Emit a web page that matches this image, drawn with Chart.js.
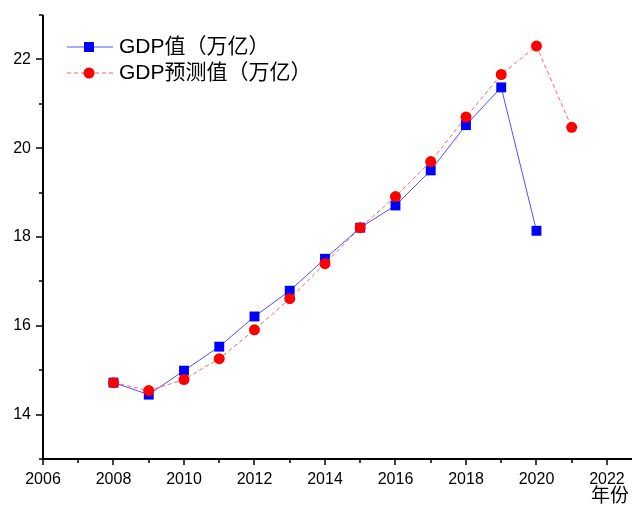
<!DOCTYPE html>
<html>
<head>
<meta charset="utf-8">
<script src="https://cdn.jsdelivr.net/npm/chart.js@4.4.0/dist/chart.umd.min.js"></script>
<style>
    body { margin: 0; background: #fff; }
    #wrap { width: 632px; height: 508px; }
</style>
</head>
<body>
<div id="wrap"><canvas id="chartGdp" width="632" height="508"></canvas></div>
<script>
// data
const years = [2008, 2009, 2010, 2011, 2012, 2013, 2014, 2015, 2016, 2017, 2018, 2019, 2020, 2021];
const gdpActual = [14.72, 14.45, 14.99, 15.53, 16.21, 16.79, 17.51, 18.21, 18.71, 19.50, 20.52, 21.37, 18.14, null];
const gdpForecast = [14.72, 14.54, 14.79, 15.26, 15.91, 16.61, 17.40, 18.21, 18.91, 19.70, 20.70, 21.66, 22.30, 20.47];
const seriesLabels = ['GDP值（万亿）', 'GDP预测值（万亿）'];
const xTitle = '年份';

const FONT = "'Liberation Sans', Arial, 'Noto Sans CJK SC', sans-serif";
const BLUE = '#0000ff';
const RED = '#ff0000';

const toPoints = vals => years.map((y, i) => ({ x: y, y: vals[i] }));

// no automatic label padding, the plot area is fixed
function fixScale(scale) {
    scale.paddingLeft = 0;
    scale.paddingRight = 0;
    scale.paddingTop = 0;
    scale.paddingBottom = 0;
}

// axis lines, major/minor ticks, legend and axis title
const decorPlugin = {
    id: 'decor',
    afterDraw(chart) {
        const ctx = chart.ctx;
        const area = chart.chartArea;
        const xs = chart.scales.x;
        const ys = chart.scales.y;
        ctx.save();
        ctx.strokeStyle = '#000';
        ctx.lineWidth = 2;
        ctx.beginPath();
        ctx.moveTo(area.left, area.top);
        ctx.lineTo(area.left, area.bottom);
        ctx.lineTo(area.right, area.bottom);
        ctx.stroke();

        ctx.lineWidth = 1.5;
        for (let v = 2006; v <= 2022; v++) {
            const px = Math.round(xs.getPixelForValue(v));
            const len = v % 2 === 0 ? 6 : 4;
            ctx.beginPath();
            ctx.moveTo(px, area.bottom);
            ctx.lineTo(px, area.bottom + len);
            ctx.stroke();
        }
        for (let v = 13; v <= 23; v++) {
            const py = Math.round(ys.getPixelForValue(v));
            const len = v % 2 === 0 ? 7 : 4;
            ctx.beginPath();
            ctx.moveTo(area.left, py);
            ctx.lineTo(area.left - len, py);
            ctx.stroke();
        }

        // legend
        const items = [
            { y: 47, ds: chart.data.datasets[0] },
            { y: 73, ds: chart.data.datasets[1] }
        ];
        items.forEach(it => {
            ctx.strokeStyle = it.ds.borderColor;
            ctx.lineWidth = 1;
            ctx.setLineDash(it.ds.borderDash || []);
            ctx.beginPath();
            ctx.moveTo(67, it.y);
            ctx.lineTo(113, it.y);
            ctx.stroke();
            ctx.setLineDash([]);
            ctx.fillStyle = it.ds.pointBackgroundColor;
            ctx.beginPath();
            if (it.ds.pointStyle === 'rect') {
                ctx.rect(84, it.y - 5, 10, 10);
            } else {
                ctx.arc(89, it.y, 5.5, 0, Math.PI * 2);
            }
            ctx.fill();
            ctx.fillStyle = '#000';
            ctx.font = '21px ' + FONT;
            ctx.textBaseline = 'middle';
            ctx.textAlign = 'left';
            ctx.fillText(it.ds.label, 119, it.y);
        });

        ctx.font = '19px ' + FONT;
        ctx.textAlign = 'right';
        ctx.textBaseline = 'middle';
        ctx.fillStyle = '#000';
        ctx.fillText(xTitle, 629, 497);
        ctx.restore();
    }
};

new Chart(document.getElementById('chartGdp'), {
    type: 'line',
    data: {
        datasets: [
            {
                label: seriesLabels[0],
                data: toPoints(gdpActual),
                borderColor: '#5050ff',
                borderWidth: 1,
                pointStyle: 'rect',
                pointRadius: 7,
                pointBackgroundColor: BLUE,
                pointBorderColor: BLUE,
                pointBorderWidth: 0,
                spanGaps: false,
                order: 2
            },
            {
                label: seriesLabels[1],
                data: toPoints(gdpForecast),
                borderColor: '#ff6060',
                borderWidth: 1,
                borderDash: [4, 3],
                pointStyle: 'circle',
                pointRadius: 5.5,
                pointBackgroundColor: RED,
                pointBorderColor: RED,
                pointBorderWidth: 0,
                order: 1
            }
        ]
    },
    options: {
        responsive: false,
        animation: false,
        layout: { autoPadding: false, padding: { top: 15, right: 0, left: 0, bottom: 0 } },
        plugins: {
            legend: { display: false },
            tooltip: { enabled: false }
        },
        scales: {
            x: {
                type: 'linear',
                min: 2006,
                max: 2022.71,
                afterFit(scale) { scale.height = 49; fixScale(scale); },
                grid: { display: false, drawTicks: false },
                border: { display: false },
                ticks: {
                    stepSize: 1,
                    includeBounds: false,
                    padding: 11,
                    maxRotation: 0,
                    autoSkip: false,
                    color: '#000',
                    font: { family: FONT, size: 16 },
                    callback: v => (Number.isInteger(v) && v % 2 === 0) ? String(v) : ''
                }
            },
            y: {
                type: 'linear',
                min: 13,
                max: 23,
                afterFit(scale) { scale.width = 43; fixScale(scale); },
                grid: { display: false, drawTicks: false },
                border: { display: false },
                ticks: {
                    stepSize: 1,
                    padding: 12,
                    autoSkip: false,
                    color: '#000',
                    font: { family: FONT, size: 16 },
                    callback: v => (v % 2 === 0) ? String(v) : ''
                }
            }
        }
    },
    plugins: [decorPlugin]
});
</script>
</body>
</html>
